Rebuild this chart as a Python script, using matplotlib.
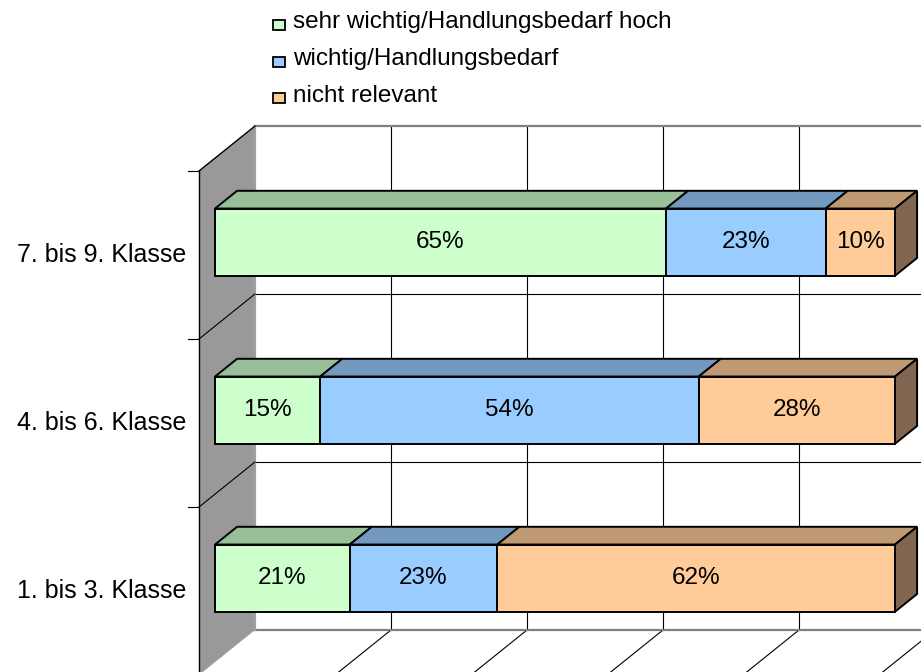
import matplotlib
matplotlib.use("Agg")
import matplotlib.pyplot as plt
from matplotlib.patches import Polygon, Rectangle

plt.rcParams['font.family'] = ['Liberation Sans', 'DejaVu Sans']

# ---- data (bottom row first) ----
categories = ["1. bis 3. Klasse", "4. bis 6. Klasse", "7. bis 9. Klasse"]
series_names = ["sehr wichtig/Handlungsbedarf hoch", "wichtig/Handlungsbedarf", "nicht relevant"]
sehr_wichtig = [21, 15, 65]
wichtig = [23, 54, 23]
nicht_relevant = [62, 28, 10]
x_ticks = [0, 20, 40, 60, 80, 100]

series = [sehr_wichtig, wichtig, nicht_relevant]
front_cols = ['#CCFFCC', '#99CCFF', '#FFCC99']
top_cols = ['#99BF99', '#7399BF', '#BF9973']
side_cols = ['#668066', '#4D6680', '#806650']

W, H = 921, 672
fig = plt.figure(figsize=(W / 100, H / 100), dpi=100)
ax = fig.add_axes([0, 0, 1, 1])
ax.set_axis_off()

# pixel mapping: x_px = 199 + 6.8 * x ; y_px = 675 - 168 * y
PX = 6.8
PY = 168.0
ax.set_xlim(-199 / PX, (W - 199) / PX)
ax.set_ylim((675 - H) / PY, 675 / PY)

DX = 56 / PX   # depth vector (data units per unit depth)
DY = 45 / PY
ncat = len(categories)

# ---- side wall ----
ax.add_patch(Polygon([(0, 0), (0, ncat), (DX, ncat + DY), (DX, DY)], closed=True,
                     facecolor='#999999', edgecolor='none', zorder=1))
ax.plot([0, 0], [0, ncat], color='black', lw=1.0, zorder=2)
ax.plot([0, DX], [ncat, ncat + DY], color='black', lw=1.0, zorder=2)
for k in range(1, ncat):
    ax.plot([0, DX], [k, k + DY], color='black', lw=0.8, zorder=2)
for k in range(0, ncat + 1):
    ax.plot([-11 / PX, 0], [k, k], color='black', lw=0.8, zorder=2)

# ---- back wall gridlines ----
xr = (W - 199) / PX + 5
for k in range(1, ncat):
    ax.plot([DX, xr], [k + DY, k + DY], color='black', lw=0.8, zorder=1.5)
for p in x_ticks[1:]:
    ax.plot([p + DX, p + DX], [DY, ncat + DY], color='black', lw=0.8, zorder=1.5)
# floor gridlines
for p in x_ticks[1:]:
    ax.plot([p + DX, p], [DY, 0], color='black', lw=0.8, zorder=1.5)
# wall borders (gray)
ax.plot([DX, xr], [ncat + DY, ncat + DY], color='#808080', lw=1.6, zorder=1.6)
ax.plot([DX, xr], [DY, DY], color='#808080', lw=1.6, zorder=1.6)
ax.plot([DX, DX], [DY, ncat + DY], color='#A0A0A0', lw=1.6, zorder=1.6)

# ---- bars ----
a, b = 0.286, 0.68
hh = 0.2
for i in range(ncat):
    vals = [s[i] for s in series]
    tot = sum(vals)
    yc = i + 0.5
    left = 0.0
    for j, v in enumerate(vals):
        w = v / tot * 100
        right = left + w
        fy0 = yc - hh + a * DY
        fy1 = yc + hh + a * DY
        by1 = yc + hh + b * DY
        by0 = yc - hh + b * DY
        ax.add_patch(Polygon([(left + a * DX, fy1), (right + a * DX, fy1),
                              (right + b * DX, by1), (left + b * DX, by1)], closed=True,
                             facecolor=top_cols[j], edgecolor='black', lw=1.4, zorder=3,
                             joinstyle='miter'))
        ax.add_patch(Rectangle((left + a * DX, fy0), w, 2 * hh, facecolor=front_cols[j],
                               edgecolor='black', lw=1.4, zorder=4, joinstyle='miter'))
        if j == len(vals) - 1:
            ax.add_patch(Polygon([(right + a * DX, fy0), (right + a * DX, fy1),
                                  (right + b * DX, by1), (right + b * DX, by0)], closed=True,
                                 facecolor=side_cols[j], edgecolor='black', lw=1.4, zorder=3,
                                 joinstyle='miter'))
        ax.text(left + w / 2 + a * DX, yc + a * DY, f"{v}%", ha='center', va='center',
                fontsize=17.5, color='black', zorder=5)
        left = right
    ax.text(-1.9, yc, categories[i], ha='right', va='center', fontsize=18, color='black')

# ---- legend ----
baselines = [28.3, 65.0, 101.7]
for j, name in enumerate(series_names):
    bl = baselines[j]
    fig.patches.append(Rectangle((273 / W, 1 - (bl + 1.5) / H), 12 / W, 10 / H,
                                 transform=fig.transFigure, facecolor=front_cols[j],
                                 edgecolor='black', lw=1.3))
    fig.text(293 / W, 1 - bl / H, name, ha='left', va='baseline', fontsize=17.5, color='black')

fig.savefig('out.png', dpi=100)
